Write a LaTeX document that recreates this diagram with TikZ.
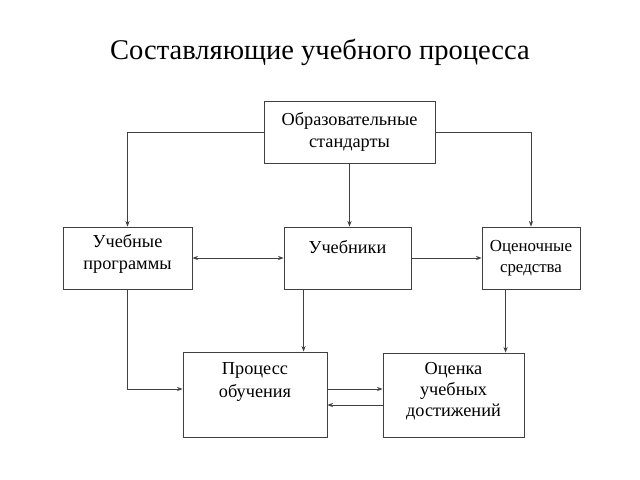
\documentclass[tikz,border=0pt]{standalone}
\usepackage{fontspec}
\setmainfont{Liberation Serif}
\usetikzlibrary{calc,arrows.meta}
\begin{document}
\begin{tikzpicture}
[x=0.025cm,y=-0.025cm,
  boxdecorate/.style={shape=rectangle,draw=black!75,line width=0.6pt,
    align=center,inner sep=2pt,font=\fontsize{13}{16}\selectfont},%
  linedecorate/.style={draw=black!75,line width=0.6pt,-{Stealth[length=4pt,width=3pt]}}]
\useasboundingbox (0,0) rectangle (640,480);
%% title
\node (title) at (320,52) {\fontsize{20.3}{24}\selectfont Составляющие учебного процесса};
%% boxes
\foreach \nodename/\x/\y/\w/\h/\txt in {
  stand/349.5/132/171/62/{Образовательные\\стандарты},
  prog/127.5/258/129/62/{Учебные\\программы\\[-12pt]\strut},
  books/347.5/258/127/62/{Учебники\\[-5pt]\strut},
  assess/531/258/98/62/{\fontsize{12}{14.5}\selectfont Оценочные\\[-1pt]средства},
  proc/255/394.5/144/85/{Процесс\\обучения\\\strut},
  eval/453.5/395/141/84/{Оценка\\[-1pt]учебных\\[-1pt]достижений\\[-13pt]\strut}} {
  \node (\nodename) at (\x,\y) [boxdecorate,minimum width=\w*0.025cm,
    minimum height=\h*0.025cm,text width=\w*0.025cm-6pt] {\txt};
}
%% lines
\draw[linedecorate] (stand.west) -| (prog.north);
\draw[linedecorate] (stand.east) -| (assess.north);
\draw[linedecorate] (stand.south) -- (stand.south |- books.north);
\draw[linedecorate,{Stealth[length=4pt,width=3pt]}-{Stealth[length=4pt,width=3pt]}] (prog.east) -- (books.west);
\draw[linedecorate] (books.east) -- (assess.west);
\draw[linedecorate] (prog.south) |- ($(proc.west)+(0,-5.5)$);
\draw[linedecorate] ($(books.south west)+(20,0)$) coordinate (bdown) -- (bdown |- proc.north);
\draw[linedecorate] ($(assess.south west)+(24,0)$) coordinate (adown) -- (adown |- eval.north);
\draw[linedecorate] ($(proc.east)+(0,-5.5)$) coordinate (pout) -- (pout -| eval.west);
\draw[linedecorate] ($(eval.west)+(0,10)$) coordinate (eout) -- (eout -| proc.east);
\end{tikzpicture}
\end{document}
